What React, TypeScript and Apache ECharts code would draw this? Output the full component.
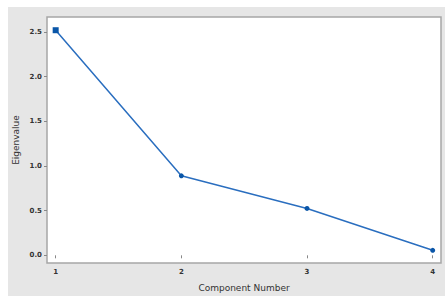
import React, { useEffect, useRef } from "react";
import * as echarts from "echarts";

const components = [1, 2, 3, 4];
const eigenvalues = [2.52, 0.89, 0.525, 0.056];
const yTicks = [0, 0.5, 1.0, 1.5, 2.0, 2.5];
const xTicks = [1, 2, 3, 4];

export default function App() {
  const ref = useRef<HTMLDivElement>(null);
  useEffect(() => {
    document.body.style.margin = "0";
    const chart = echarts.init(ref.current!, null, { renderer: "svg" });
    const data = components.map((c, i) => ({
      value: [c, eigenvalues[i]],
      symbol: i === 0 ? "rect" : "circle",
      symbolSize: i === 0 ? 6 : 5,
    }));
    chart.setOption({
      animation: false,
      backgroundColor: "#e6e6e6",
      grid: {
        left: 39,
        right: 4,
        top: 10,
        bottom: 33,
        containLabel: false,
        outerBoundsMode: "none",
        show: true,
        backgroundColor: "#ffffff",
        borderColor: "#a6a6a6",
        borderWidth: 1.5,
      },
      xAxis: {
        type: "value",
        min: 0.931,
        max: 4.066,
        name: "Component Number",
        nameLocation: "middle",
        nameGap: 20,
        nameMoveOverlap: false,
        nameTextStyle: { fontFamily: "DejaVu Sans", fontSize: 9, color: "#333" },
        axisLine: { show: false },
        splitLine: { show: false },
        axisTick: { show: true, length: 3, lineStyle: { color: "#888" }, customValues: xTicks },
        axisLabel: {
          customValues: xTicks,
          fontFamily: "DejaVu Sans",
          fontSize: 7,
          fontWeight: "bold",
          color: "#333",
          margin: 5,
        },
      },
      yAxis: {
        type: "value",
        min: -0.086,
        max: 2.668,
        name: "Eigenvalue",
        nameLocation: "middle",
        nameGap: 27,
        nameMoveOverlap: false,
        nameTextStyle: { fontFamily: "DejaVu Sans", fontSize: 9, color: "#333" },
        axisLine: { show: false },
        splitLine: { show: false },
        axisTick: { show: true, length: 3, lineStyle: { color: "#888" }, customValues: yTicks },
        axisLabel: {
          customValues: yTicks,
          formatter: (v: number) => v.toFixed(1),
          fontFamily: "DejaVu Sans",
          fontSize: 7,
          fontWeight: "bold",
          color: "#333",
          margin: 5,
        },
      },
      series: [
        {
          type: "line",
          data,
          lineStyle: { color: "#2a6ebf", width: 1.5 },
          itemStyle: { color: "#0a56a8" },
        },
      ],
    });
    return () => chart.dispose();
  }, []);
  return (
    <div
      ref={ref}
      style={{ position: "absolute", left: 8, top: 7, width: 437, height: 289 }}
    />
  );
}
